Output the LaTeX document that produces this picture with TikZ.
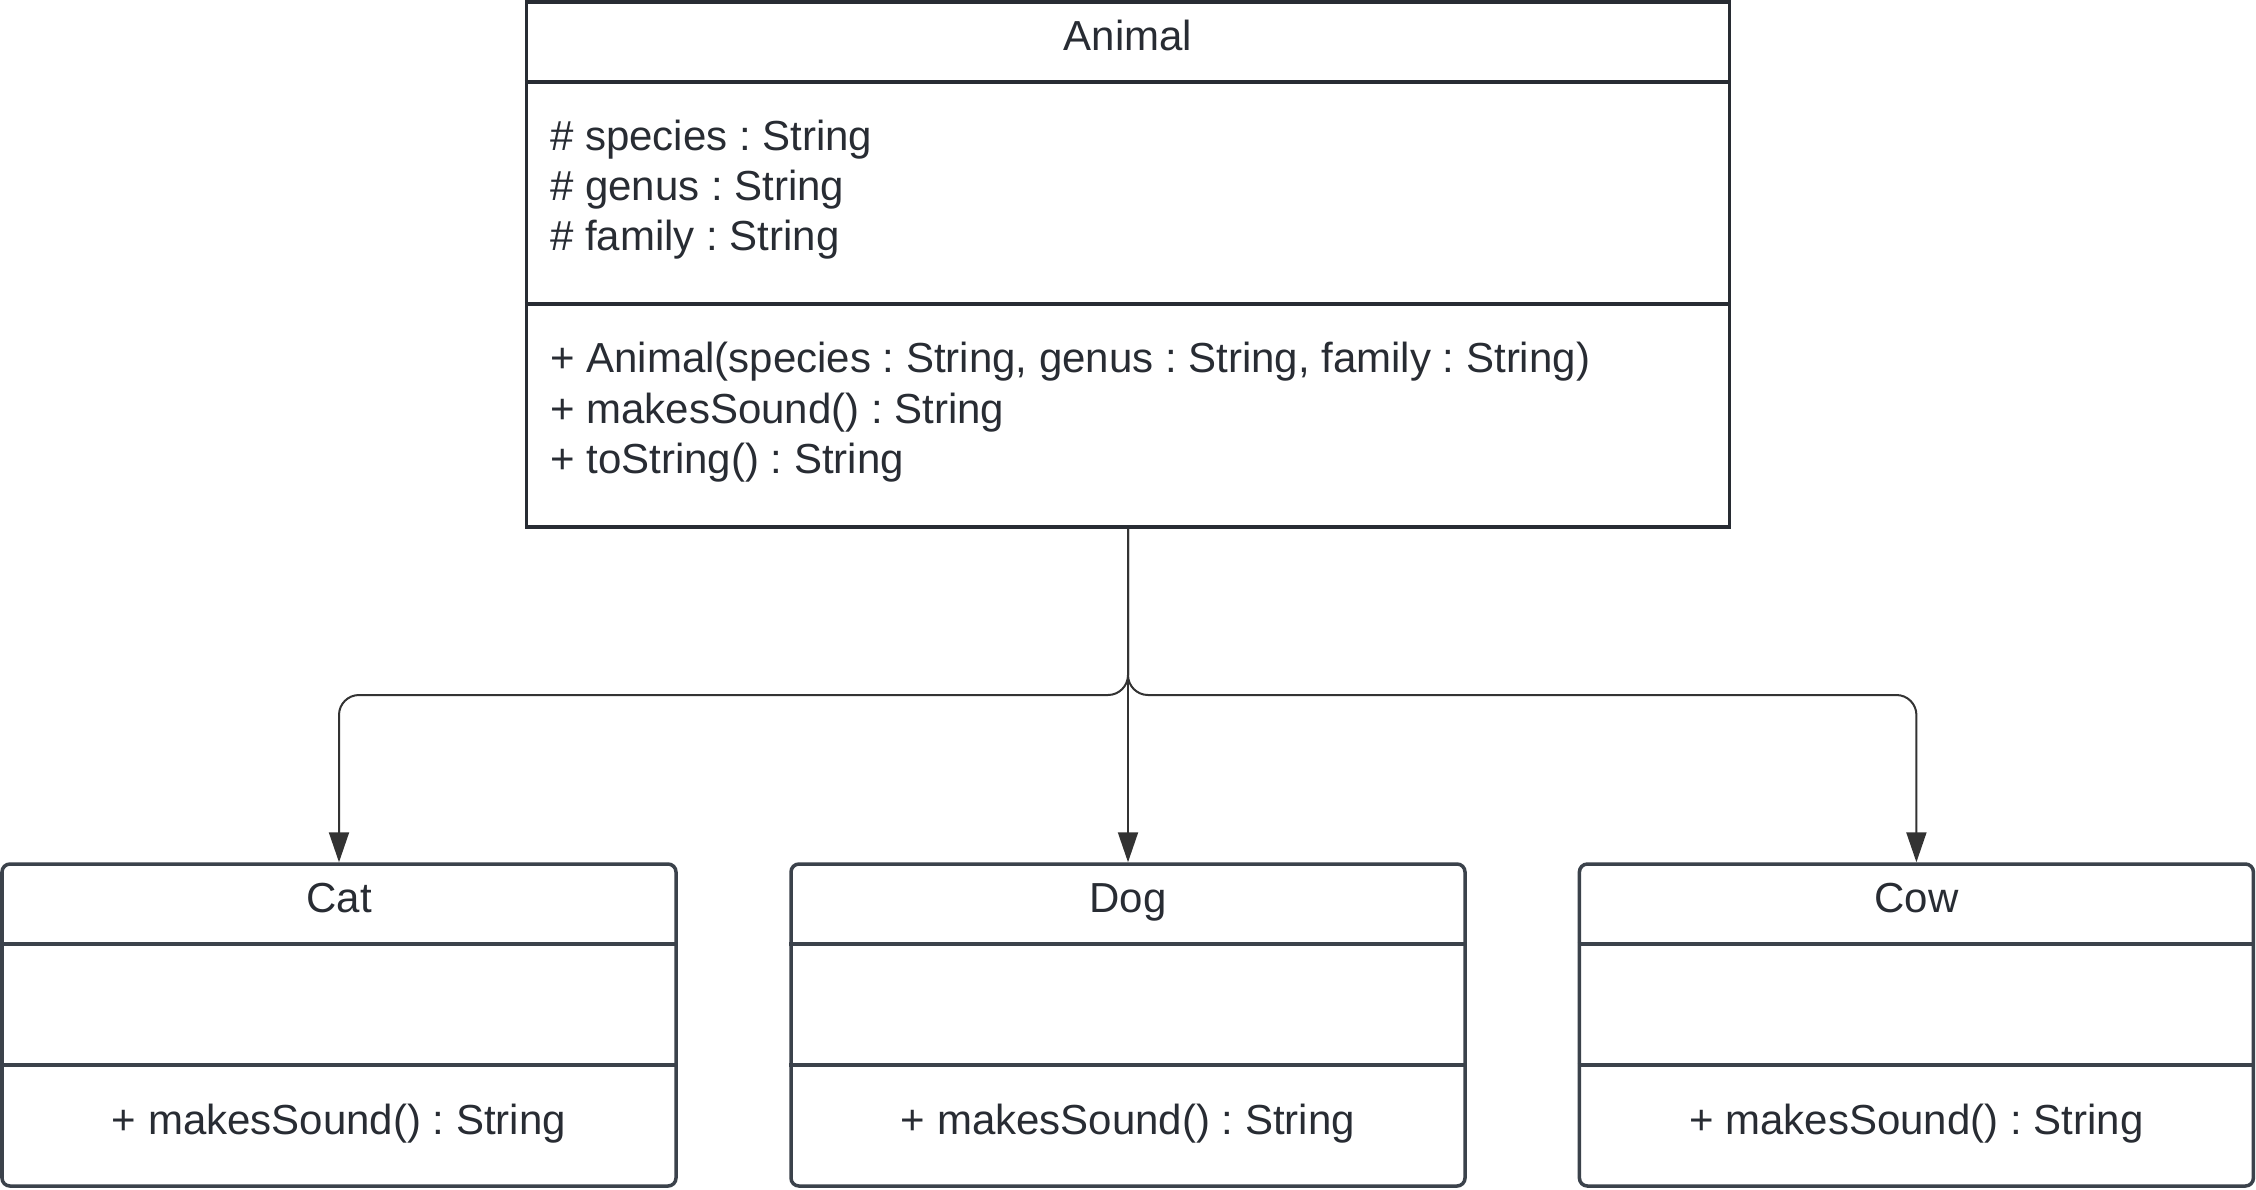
\documentclass[tikz,border=0pt]{standalone}
\usepackage{fontspec}
\setmainfont{Liberation Sans}
\frenchspacing
\usetikzlibrary{arrows.meta}
\definecolor{ink}{HTML}{282C33}
\definecolor{kid}{HTML}{3B424B}
\definecolor{wire}{HTML}{333333}
\begin{document}
\begin{tikzpicture}[x=1pt,y=-1pt,
  parent/.style={draw=ink,line width=3.5pt,rectangle,minimum width=1203pt,minimum height=525pt,inner sep=0pt},
  child/.style={draw=kid,line width=3.5pt,rectangle,rounded corners=8pt,minimum width=674pt,minimum height=322pt,inner sep=0pt},
  txt/.style={inner sep=0pt,text=ink,font=\fontsize{42}{50}\selectfont\frenchspacing},
  wirestyle/.style={draw=wire,line width=2pt,-{Triangle[length=30pt,width=20pt]}}]
\useasboundingbox[fill=white] (0,0) rectangle (2256,1189);
% Animal class
\node[parent] (animal) at (1128,264.5) {};
\draw[ink,line width=3.5pt] (animal.west |- 0,82) -- (animal.east |- 0,82);
\draw[ink,line width=3.5pt] (animal.west |- 0,304) -- (animal.east |- 0,304);
\node[txt,anchor=base] (atitle) at (1128,50) {Animal};
\node[txt,anchor=base west] (a1) at (550,150) {\# species : String};
\node[txt,anchor=base west] (a2) at (550,200) {\# genus : String};
\node[txt,anchor=base west] (a3) at (550,250) {\# family : String};
\node[txt,anchor=base west] (m1) at (550,372) {+ Animal(species : String, genus : String, family : String)};
\node[txt,anchor=base west] (m2) at (550,423) {+ makesSound() : String};
\node[txt,anchor=base west] (m3) at (550,473) {+ toString() : String};
% children
\foreach \n/\cx/\t in {cat/339/Cat,dog/1128/Dog,cow/1916.4/Cow}{
  \node[child] (\n) at (\cx,1025) {};
  \draw[kid,line width=3.5pt] (\n.west |- 0,944) -- (\n.east |- 0,944);
  \draw[kid,line width=3.5pt] (\n.west |- 0,1065) -- (\n.east |- 0,1065);
  \node[txt,anchor=base] (\n title) at (\cx,912) {\t};
  \node[txt,anchor=base] (\n op) at (\cx,1134) {+ makesSound() : String};
}
% connectors
\coordinate (j) at (1128,695);
\draw[wirestyle,rounded corners=20pt] (animal.south) -- (j) -| (cat.north);
\draw[wirestyle,rounded corners=20pt] (animal.south) -- (j) -| (cow.north);
\draw[wirestyle] (animal.south) -- (dog.north);
\end{tikzpicture}
\end{document}
